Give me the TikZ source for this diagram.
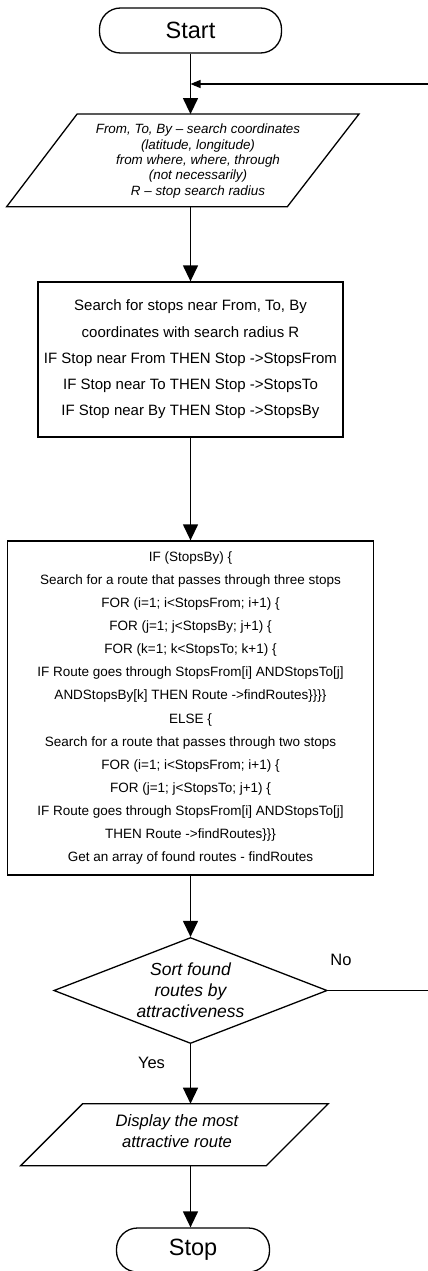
\documentclass[tikz,border=0pt]{standalone}
\usepackage{fontspec}
\setmainfont{Liberation Sans}
\usetikzlibrary{arrows.meta,shapes.geometric,calc}
\begin{document}
\begin{tikzpicture}[x=1pt,y=-1pt,
  line width=1.3pt,
  arr/.style={-{Triangle[length=16pt,width=15pt]}},
  arrsmall/.style={-{Triangle[length=10pt,width=8pt]}},
  term/.style={draw, rounded corners=21pt, minimum width=182pt, minimum height=45pt, inner sep=0pt, font=\fontsize{23.5}{28}\selectfont},
  procbox/.style={draw, rectangle, align=center, inner sep=0pt},
  iobox/.style={draw=none, inner sep=0pt},
  iotext/.style={align=center, inner sep=0pt, font=\itshape\fontsize{13.4}{15.4}\selectfont},
  decision/.style={draw, diamond, aspect=2.58, inner sep=0pt, minimum width=273.4pt, minimum height=106pt, align=center, font=\itshape\fontsize{17.5}{21}\selectfont},
  lbl/.style={inner sep=0pt, font=\fontsize{16.5}{20}\selectfont}
]
\useasboundingbox (0,0) rectangle (428,1271);

% Start
\node[term] (start) at (190.5,30.5) {Start};

% input parallelogram 1
\node[iobox, minimum width=351pt, minimum height=91.3pt] (p1) at (182.8,160.4) {};
\draw ([xshift=70.4pt]p1.north west) -- (p1.north east) -- ([xshift=-71.6pt]p1.south east) -- (p1.south west) -- cycle;
\node[iotext] (p1txt) at (198,161) {From, To, By – search coordinates\\(latitude, longitude)\\from where, where, through\\(not necessarily)\\R – stop search radius};

% process box 1
\node[procbox, minimum width=305pt, minimum height=155pt, font=\fontsize{15}{26.3}\selectfont] (b1) at (190.5,359.5)
{Search for stops near From, To, By\\coordinates with search radius R\\IF Stop near From THEN Stop ->StopsFrom\\IF Stop near To THEN Stop ->StopsTo\\IF Stop near By THEN Stop ->StopsBy};

% process box 2
\node[procbox, minimum width=365.5pt, minimum height=334pt, font=\fontsize{13.5}{23.1}\selectfont] (b2) at (190.5,708)
{IF (StopsBy) \{\\
Search for a route that passes through three stops\\
FOR (i=1; i<StopsFrom; i+1) \{\\
FOR (j=1; j<StopsBy; j+1) \{\\
FOR (k=1; k<StopsTo; k+1) \{\\
IF Route goes through StopsFrom[i] ANDStopsTo[j]\\
ANDStopsBy[k] THEN Route ->findRoutes\}\}\}\}\\
ELSE \{\\
Search for a route that passes through two stops\\
FOR (i=1; i<StopsFrom; i+1) \{\\
FOR (j=1; j<StopsTo; j+1) \{\\
IF Route goes through StopsFrom[i] ANDStopsTo[j]\\
THEN Route ->findRoutes\}\}\}\\
Get an array of found routes - findRoutes};

% decision
\node[decision] (d) at (190.5,990.5) {Sort found\\routes by\\attractiveness};

% output parallelogram 2
\node[iobox, minimum width=306.4pt, minimum height=60.7pt] (p2) at (174.5,1134.7) {};
\draw ([xshift=62pt]p2.north west) -- (p2.north east) -- ([xshift=-62pt]p2.south east) -- (p2.south west) -- cycle;
\node[iotext, font=\itshape\fontsize{16.6}{21.7}\selectfont] (p2txt) at (177,1131) {Display the most\\attractive route};

% Stop
\node[term, minimum width=153pt, minimum height=44pt] (stop) at (193,1250) {Stop};

% labels
\node[lbl] (no) at (341,960) {No};
\node[lbl] (yes) at (151.5,1063.3) {Yes};

% connectors
\coordinate (fb) at (190.5,84);
\draw[arr] (start.south) -- (start.south |- p1.north);
\draw[arr] (b1.north |- p1.south) -- (b1.north);
\draw[arr] (b1.south) -- (b2.north);
\draw[arr] (b2.south) -- (d.north);
\draw[arr] (d.south) -- (d.south |- p2.north);
\draw[arr] (d.south |- p2.south) -- (d.south |- stop.north);
\draw[arrsmall, line width=1.1pt] (d.east) -- (460,990.5) |- (fb);
\end{tikzpicture}
\end{document}
